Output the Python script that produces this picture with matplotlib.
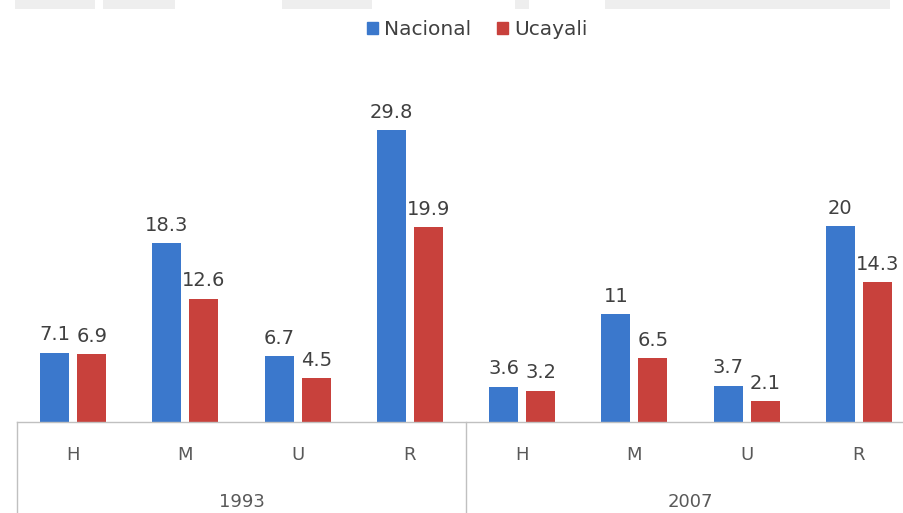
import numpy as np
import matplotlib
matplotlib.use("Agg")
import matplotlib.pyplot as plt
import matplotlib.transforms as mtransforms
from matplotlib.patches import Rectangle, Patch

# data
years = ["1993", "2007"]
cats = ["H", "M", "U", "R", "H", "M", "U", "R"]
nacional = [7.1, 18.3, 6.7, 29.8, 3.6, 11, 3.7, 20]
ucayali = [6.9, 12.6, 4.5, 19.9, 3.2, 6.5, 2.1, 14.3]

blue = "#3b78cc"
red = "#c8413c"
txt = "#404040"
grid = "#c0c0c0"

plt.rcParams["font.family"] = ["DejaVu Sans"]

fig = plt.figure(figsize=(9.04, 5.13), dpi=100)

# faint watermark strip at the top
for x0, x1 in [(15, 95), (103, 175), (282, 372), (515, 529), (605, 890)]:
    fig.patches.append(Rectangle((x0 / 904, 1 - 9 / 513), (x1 - x0) / 904, 9 / 513,
                                 transform=fig.transFigure, color="#eeeeee", lw=0))

ax = fig.add_axes([17 / 904, 91 / 513, 898 / 904, 362 / 513])
x = np.arange(len(cats))
w = 0.26
off = 0.165
b1 = ax.bar(x - off, nacional, w, color=blue, label="Nacional")
b2 = ax.bar(x + off, ucayali, w, color=red, label="Ucayali")

for bars, vals in [(b1, nacional), (b2, ucayali)]:
    for r, v in zip(bars, vals):
        ax.annotate(f"{v:g}", (r.get_x() + r.get_width() / 2, v), xytext=(0, 6),
                    textcoords="offset points", ha="center", va="bottom",
                    fontsize=14, color=txt)

ax.set_xlim(-0.5, 7.5)
ax.set_ylim(0, 37.0)
ax.set_xticks([])
ax.set_yticks([])
for s in ["top", "right", "left"]:
    ax.spines[s].set_visible(False)
ax.spines["bottom"].set_color(grid)
ax.spines["bottom"].set_linewidth(1)

trans = mtransforms.blended_transform_factory(ax.transData, ax.transAxes)
for xi, c in zip(x, cats):
    ax.text(xi, -0.091, c, transform=trans, ha="center", va="center",
            fontsize=13, color="#595959")
for i, yr in enumerate(years):
    ax.text(1.5 + 4 * i, -0.222, yr, transform=trans, ha="center", va="center",
            fontsize=13, color="#595959")
for xs in [-0.5, 3.5, 7.5]:
    ax.plot([xs, xs], [0, -0.3], transform=trans, color=grid, lw=1, clip_on=False)

handles = [Patch(color=blue), Patch(color=red)]
fig.legend(handles, ["Nacional", "Ucayali"], loc="center", bbox_to_anchor=(0.528, 0.942),
           ncol=2, frameon=False, handlelength=0.55, handleheight=0.55,
           columnspacing=1.3, handletextpad=0.3, fontsize=14.5, labelcolor=txt)

fig.savefig("out.png", dpi=100)
